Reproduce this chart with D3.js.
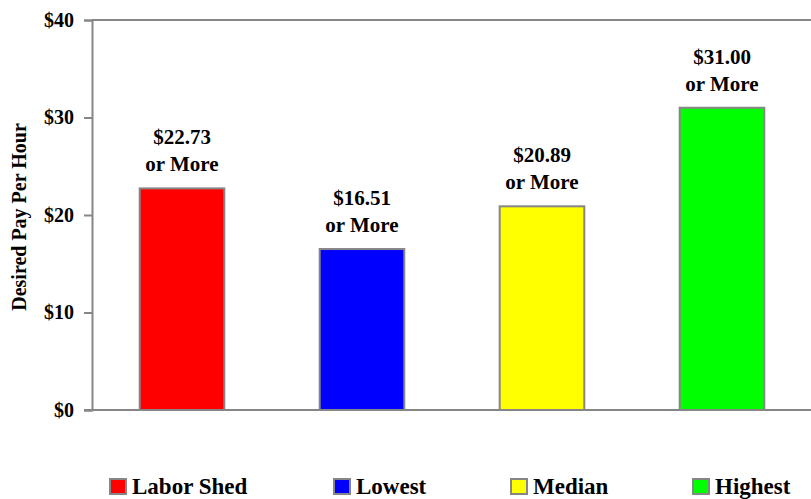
<!DOCTYPE html>
<html>
<head>
<meta charset="utf-8">
<script src="https://cdn.jsdelivr.net/npm/d3@7"></script>
<style>
  html, body { margin: 0; padding: 0; background: #fff; }
  svg { display: block; }
</style>
</head>
<body>
<svg id="chart" width="811" height="499"></svg>
<script>
// Desired hourly pay by group
const categories = ["Labor Shed", "Lowest", "Median", "Highest"];
const values = [22.73, 16.51, 20.89, 31.00];
const colors = ["#FF0000", "#0000FF", "#FFFF00", "#00FF00"];
const yTicks = [0, 10, 20, 30, 40];

const FONT = "Liberation Serif";
const svg = d3.select("#chart")
  .attr("font-family", FONT)
  .attr("font-weight", "bold");
const plot = { left: 92, right: 812, top: 20, bottom: 410 };
const axisColor = "#868686";

const x = d3.scaleBand().domain(categories).range([plot.left, plot.right]).paddingInner(0.53).paddingOuter(0.265);
const y = d3.scaleLinear().domain([0, 40]).range([plot.bottom, plot.top]);

// top border of the plot area
svg.append("line")
  .attr("x1", plot.left).attr("x2", plot.right)
  .attr("y1", y(40)).attr("y2", y(40))
  .attr("stroke", axisColor).attr("stroke-width", 2);

// y axis
const yAxis = d3.axisLeft(y).tickValues(yTicks).tickSize(8).tickPadding(10)
  .tickFormat(d => "$" + d);
const gy = svg.append("g").attr("transform", `translate(${plot.left},0)`).call(yAxis)
  .attr("font-family", FONT).attr("font-size", 20);
gy.select(".domain").attr("stroke", axisColor).attr("stroke-width", 2);
gy.selectAll(".tick line").attr("stroke", axisColor).attr("stroke-width", 2);
gy.selectAll(".tick text")
  .attr("fill", "#000").attr("font-weight", "bold").attr("font-family", FONT);

// x baseline
svg.append("line")
  .attr("x1", plot.left - 8).attr("x2", plot.right)
  .attr("y1", y(0)).attr("y2", y(0))
  .attr("stroke", axisColor).attr("stroke-width", 2);

// bars
svg.selectAll("rect.bar")
  .data(values)
  .join("rect")
  .attr("class", "bar")
  .attr("x", (d, i) => x(categories[i]))
  .attr("width", x.bandwidth())
  .attr("y", d => y(d))
  .attr("height", d => y(0) - y(d))
  .attr("fill", (d, i) => colors[i])
  .attr("stroke", axisColor)
  .attr("stroke-width", 2);

// value labels
const labels = svg.selectAll("g.lbl")
  .data(values)
  .join("g")
  .attr("class", "lbl")
  .attr("transform", (d, i) => `translate(${x(categories[i]) + x.bandwidth() / 2},${y(d)})`);
labels.append("text")
  .attr("text-anchor", "middle").attr("y", -44).attr("font-size", 21)
  .attr("font-family", FONT)
  .text(d => "$" + d.toFixed(2));
labels.append("text")
  .attr("text-anchor", "middle").attr("y", -17).attr("font-size", 21)
  .attr("font-family", FONT)
  .text("or More");

// y axis title
svg.append("text")
  .attr("transform", `translate(26,${(plot.top + plot.bottom) / 2 + 2}) rotate(-90)`)
  .attr("text-anchor", "middle").attr("font-size", 20)
  .attr("font-family", FONT)
  .text("Desired Pay Per Hour");

// legend
const legendX = [110, 334, 511, 693];
const leg = svg.selectAll("g.leg")
  .data(categories)
  .join("g")
  .attr("class", "leg")
  .attr("transform", (d, i) => `translate(${legendX[i]},479)`);
leg.append("rect")
  .attr("width", 16).attr("height", 15)
  .attr("fill", (d, i) => colors[i])
  .attr("stroke", axisColor).attr("stroke-width", 2);
leg.append("text")
  .attr("x", 22).attr("y", 15).attr("font-size", 23)
  .attr("font-family", FONT)
  .text(d => d);
</script>
</body>
</html>
